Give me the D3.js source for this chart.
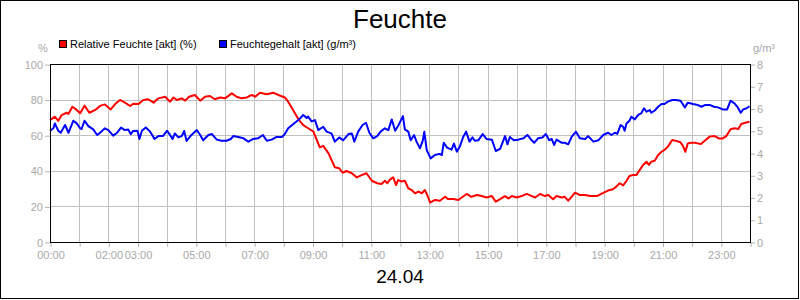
<!DOCTYPE html>
<html>
<head>
<meta charset="utf-8">
<script src="https://cdn.jsdelivr.net/npm/d3@7"></script>
<style>
  body { margin: 0; background: #fff; }
  svg { display: block; font-family: 'Liberation Sans', Arial, sans-serif; }
  .axis path { display: none; }
  .axis line { stroke: #b4b4b4; }
  .axis text { fill: #a8a8a8; font-size: 11px; }
</style>
</head>
<body>
<div id="chart"></div>
<script>
// Relative Feuchte (%), left axis
const rfTimes = ['00:00','00:10','00:17','00:24','00:34','00:38','00:46','00:55','01:02','01:11','01:21','01:33','01:44','01:53','02:05','02:14','02:24','02:34','02:45','02:51','03:02','03:12','03:22','03:33','03:43','03:57','04:07','04:14','04:21','04:31','04:38','04:46','04:58','05:09','05:19','05:29','05:39','05:50','06:00','06:14','06:24','06:34','06:45','06:55','07:02','07:12','07:26','07:39','07:50','08:03','08:10','08:20','08:31','08:41','08:51','09:02','09:09','09:15','09:22','09:33','09:39','09:46','09:55','10:02','10:10','10:21','10:31','10:41','10:51','11:02','11:13','11:22','11:29','11:34','11:39','11:46','11:52','11:56','12:03','12:10','12:17','12:24','12:31','12:38','12:45','12:51','12:56','13:02','13:12','13:22','13:33','13:39','13:50','14:00','14:07','14:17','14:27','14:38','14:48','14:58','15:09','15:17','15:26','15:36','15:43','15:50','16:00','16:10','16:21','16:31','16:38','16:48','16:58','17:05','17:15','17:22','17:33','17:39','17:46','17:53','18:00','18:10','18:21','18:31','18:45','18:55','19:08','19:18','19:25','19:32','19:39','19:46','19:52','19:59','20:06','20:13','20:20','20:27','20:32','20:37','20:44','20:51','20:58','21:04','21:11','21:20','21:28','21:37','21:42','21:47','21:52','21:59','22:07','22:19','22:27','22:37','22:47','22:56','23:04','23:11','23:20','23:28','23:36','23:42','23:50','23:59'];
const rfValues = [68.5,70.4,68.1,71.3,72.6,72,76,74.2,72.3,76.6,72.6,74.2,76.6,77.3,74.5,77.5,79.8,78.3,76.4,77.7,77.5,79.8,80.2,78.3,80.7,81.6,78.8,81.2,79.8,80.7,79.4,81.6,82.6,79.4,81.6,82,80.2,81.2,80.7,83.5,81.6,80.7,81.2,82.6,81.6,83.9,83,83.9,82.6,81.2,78.8,74.2,68.9,65.7,63.9,62,57.3,53.2,54,49.8,46.1,42,41.4,38.9,39.9,38.6,36.3,37.6,38.6,34.4,33,32.6,34.4,33,35,36.3,32,34.8,34,34.4,30.2,29.2,27.4,28.3,27.4,29.2,26.4,22.1,23.6,23.2,25.4,24.1,24.1,23.6,25,27,25.4,26.4,25.8,25,25.8,22.7,24.1,25.8,24.5,25.8,25,25.8,27,25.8,25,27,25.8,26.4,24,25.8,25,25.4,23.2,25.4,27.7,26.4,26.4,25.8,25.8,27.2,28.9,29.6,31.1,33,31.8,34.4,37.1,37.6,37.6,40.4,43.3,45.1,43.3,45.1,45.7,48.9,50.7,51.7,53.6,57.3,56.8,56,54,50.7,55.4,55.8,55.8,55,56.9,59.2,59.5,58.2,58.2,59.5,63.3,63.9,63.5,66.3,67,67.6];

// Feuchtegehalt (g/m³), right axis
const fgTimes = ['00:00','00:07','00:10','00:17','00:22','00:31','00:38','00:48','00:55','01:02','01:05','01:11','01:19','01:29','01:37','01:43','01:53','02:00','02:10','02:18','02:26','02:34','02:41','02:46','02:51','03:00','03:04','03:09','03:17','03:26','03:35','03:43','03:52','04:01','04:07','04:12','04:17','04:24','04:31','04:36','04:41','04:51','05:02','05:09','05:15','05:26','05:33','05:43','05:53','06:03','06:12','06:17','06:27','06:38','06:48','06:58','07:08','07:18','07:26','07:36','07:46','07:57','08:03','08:10','08:20','08:31','08:41','08:48','08:51','08:58','09:05','09:12','09:22','09:29','09:39','09:46','09:55','10:03','10:14','10:21','10:26','10:34','10:43','10:50','10:57','11:05','11:13','11:20','11:29','11:36','11:43','11:50','11:56','12:06','12:10','12:17','12:22','12:29','12:34','12:41','12:47','12:50','12:55','13:03','13:12','13:21','13:26','13:30','13:37','13:46','13:51','13:57','14:03','14:10','14:16','14:23','14:29','14:34','14:41','14:50','14:58','15:09','15:17','15:26','15:36','15:41','15:46','15:54','16:03','16:14','16:22','16:31','16:36','16:44','16:53','17:00','17:07','17:12','17:17','17:22','17:33','17:39','17:46','17:53','18:02','18:10','18:21','18:27','18:38','18:48','18:58','19:08','19:15','19:22','19:27','19:34','19:39','19:42','19:46','19:52','19:56','20:03','20:10','20:16','20:22','20:27','20:34','20:37','20:44','20:51','20:58','21:04','21:11','21:20','21:28','21:37','21:46','21:52','22:03','22:12','22:20','22:28','22:37','22:46','22:54','23:04','23:13','23:20','23:28','23:34','23:41','23:46','23:52','23:59'];
const fgValues = [5.0,5.11,5.33,5.0,4.91,5.26,4.91,5.45,5.33,5.11,5.08,5.45,5.21,5.06,4.81,4.91,5.11,5.03,4.78,4.91,5.14,5.03,5.06,4.85,4.99,5.0,4.63,5.0,5.15,4.96,4.63,4.76,4.76,5.0,4.81,4.63,4.88,4.7,4.76,4.99,4.54,4.81,5.03,4.81,4.57,4.81,4.85,4.6,4.55,4.55,4.63,4.76,4.72,4.66,4.51,4.63,4.66,4.81,4.55,4.6,4.72,4.72,4.85,5.11,5.29,5.48,5.71,5.57,5.64,5.42,5.48,5.03,5.18,4.96,4.88,4.51,4.7,4.57,4.85,4.88,4.51,4.96,5.26,5.36,4.91,4.66,4.76,4.96,5.11,5.03,5.51,5.0,5.21,5.66,5.06,4.96,4.57,4.81,4.51,4.21,4.57,4.96,4.13,3.76,3.91,3.96,3.91,4.46,4.24,4.15,4.42,4.06,4.29,4.72,4.96,4.51,4.7,4.55,4.57,4.85,4.63,4.6,4.09,4.19,4.76,4.39,4.72,4.57,4.6,4.66,4.81,4.57,4.46,4.66,4.7,4.85,4.57,4.63,4.36,4.6,4.46,4.46,4.39,4.72,4.96,4.66,4.63,4.76,4.51,4.57,4.81,4.91,4.81,4.91,4.86,5.26,5.18,5.0,5.33,5.45,5.63,5.51,5.71,5.78,6.01,5.86,5.93,5.81,5.91,6.08,6.2,6.2,6.31,6.38,6.38,6.35,6.05,6.26,6.2,6.16,6.08,6.16,6.16,6.08,6.05,5.96,5.96,6.35,6.23,6.08,5.81,5.96,6.0,6.1];

const leftTicks = [0, 20, 40, 60, 80, 100];
const rightTicks = [0, 1, 2, 3, 4, 5, 6, 7, 8];
const xTickLabels = ['00:00','02:00','03:00','05:00','07:00','09:00','11:00','13:00','15:00','17:00','19:00','21:00','23:00'];

const drawChart = () => {
  let width = 800;
  let height = 300;
  let margin = { top: 64, right: 50, bottom: 58, left: 50 };
  let chartWidth = width - margin.left - margin.right;
  let chartHeight = height - margin.top - margin.bottom;

  let parseTime = d3.timeParse('%H:%M');
  let formatTime = d3.timeFormat('%H:%M');
  let dayStart = parseTime('00:00');
  let dayEnd = d3.timeDay.offset(dayStart, 1);

  let root = d3
    .select('#chart')
    .append('svg')
    .attr('width', width)
    .attr('height', height);

  // outer frame
  root
    .append('rect')
    .attr('x', 0.5)
    .attr('y', 0.5)
    .attr('width', 798)
    .attr('height', 298)
    .attr('fill', 'none')
    .attr('stroke', '#000');

  let svg = root
    .append('g')
    .attr('transform', `translate(${margin.left},${margin.top})`);

  // Scales
  let xPositionScale = d3.scaleTime().domain([dayStart, dayEnd]).range([0, chartWidth]);
  let yLeftScale = d3.scaleLinear().domain([0, 100]).range([chartHeight, 0]);
  let yRightScale = d3.scaleLinear().domain([0, 8]).range([chartHeight, 0]);

  let hours = d3.timeHour.range(dayStart, d3.timeHour.offset(dayEnd, 1));

  // Grid
  svg
    .selectAll('.vgrid')
    .data(hours)
    .enter()
    .append('line')
    .attr('x1', (d) => Math.round(xPositionScale(d)) + 0.5)
    .attr('x2', (d) => Math.round(xPositionScale(d)) + 0.5)
    .attr('y1', 0)
    .attr('y2', chartHeight)
    .attr('stroke', '#c0c0c0');

  svg
    .selectAll('.hgrid')
    .data(leftTicks)
    .enter()
    .append('line')
    .attr('x1', 0)
    .attr('x2', chartWidth)
    .attr('y1', (d) => Math.round(yLeftScale(d)) + 0.5)
    .attr('y2', (d) => Math.round(yLeftScale(d)) + 0.5)
    .attr('stroke', '#c0c0c0');

  // Axes
  let xAxis = svg
    .append('g')
    .attr('class', 'axis x-axis')
    .attr('transform', `translate(0.5, ${chartHeight})`)
    .call(
      d3
        .axisBottom(xPositionScale)
        .tickValues(hours)
        .tickSize(5)
        .tickPadding(4)
        .tickFormat((d) => {
          let label = formatTime(d);
          return xTickLabels.includes(label) && d < dayEnd ? label : '';
        })
    );

  svg
    .append('g')
    .attr('class', 'axis y-axis')
    .attr('transform', 'translate(0, 0.5)')
    .call(d3.axisLeft(yLeftScale).tickValues(leftTicks).tickSize(5).tickPadding(2));

  svg
    .append('g')
    .attr('class', 'axis y-axis-right')
    .attr('transform', `translate(${chartWidth}, 0.5)`)
    .call(d3.axisRight(yRightScale).tickValues(rightTicks).tickSize(5).tickPadding(2));

  // Lines
  let rfData = rfTimes.map((t, i) => ({ time: parseTime(t), value: rfValues[i] }));
  let fgData = fgTimes.map((t, i) => ({ time: parseTime(t), value: fgValues[i] }));

  let rfLine = d3
    .line()
    .x((d) => xPositionScale(d.time))
    .y((d) => yLeftScale(d.value));

  let fgLine = d3
    .line()
    .x((d) => xPositionScale(d.time))
    .y((d) => yRightScale(d.value));

  svg
    .append('path')
    .attr('d', rfLine(rfData))
    .attr('fill', 'none')
    .attr('stroke', '#ff0000')
    .attr('stroke-width', 2)
    .attr('stroke-linejoin', 'round');

  svg
    .append('path')
    .attr('d', fgLine(fgData))
    .attr('fill', 'none')
    .attr('stroke', '#0000ff')
    .attr('stroke-width', 2)
    .attr('stroke-linejoin', 'round');

  // plot frame
  svg
    .append('rect')
    .attr('x', 0.5)
    .attr('y', 0.5)
    .attr('width', chartWidth)
    .attr('height', chartHeight)
    .attr('fill', 'none')
    .attr('stroke', '#000');

  // Titles
  root
    .append('text')
    .attr('x', width / 2)
    .attr('y', 28)
    .attr('text-anchor', 'middle')
    .attr('font-size', '26px')
    .text('Feuchte');

  root
    .append('text')
    .attr('x', width / 2)
    .attr('y', 283)
    .attr('text-anchor', 'middle')
    .attr('font-size', '19px')
    .text('24.04');

  // unit labels
  root
    .append('text')
    .attr('x', 43)
    .attr('y', 52)
    .attr('text-anchor', 'middle')
    .attr('font-size', '11px')
    .attr('fill', '#a8a8a8')
    .text('%');

  root
    .append('text')
    .attr('x', 753)
    .attr('y', 52)
    .attr('font-size', '11px')
    .attr('fill', '#a8a8a8')
    .text('g/m³');

  // Legend
  let legendItems = [
    { label: 'Relative Feuchte [akt] (%)', color: '#ff0000', x: 59 },
    { label: 'Feuchtegehalt [akt] (g/m³)', color: '#0000ff', x: 219 }
  ];

  legendItems.forEach((item) => {
    let g = root.append('g').attr('transform', `translate(${item.x}, 40)`);
    g.append('rect')
      .attr('x', 0.5)
      .attr('y', 0.5)
      .attr('width', 7)
      .attr('height', 7)
      .attr('fill', item.color)
      .attr('stroke', '#000');
    g.append('text')
      .attr('x', 11)
      .attr('y', 8)
      .attr('font-size', '11px')
      .attr('fill', '#000')
      .text(item.label);
  });
};

drawChart();
</script>
</body>
</html>
